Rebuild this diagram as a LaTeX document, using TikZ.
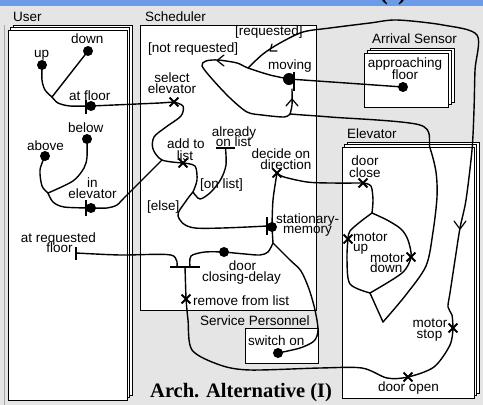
\documentclass[tikz,border=0pt]{standalone}
\usepackage{fontspec}
\setmainfont{Liberation Sans}
\newfontfamily\titlefont{Liberation Serif}
\usetikzlibrary{shapes.misc}
\definecolor{slidegray}{RGB}{229,229,229}
\definecolor{barblue}{RGB}{108,155,232}
\begin{document}
\begin{tikzpicture}[x=1pt,y=-1pt,
  lab/.style={inner sep=0pt, font=\fontsize{13.5}{14}\selectfont},
  boxframe/.style={draw, fill=white, line width=1pt},
  ucm/.style={line width=1.4pt, line join=round, line cap=round},
  dot/.style={circle, fill, inner sep=0pt, minimum size=10pt},
  bigdot/.style={dot, minimum size=12pt},
  vbar/.style={rectangle, fill, inner sep=0pt, minimum width=2.8pt},
  hbar/.style={rectangle, fill, inner sep=0pt, minimum height=2.8pt},
  resp/.style={cross out, draw, line width=1.9pt, minimum size=7pt, inner sep=0pt},
  chev/.style={line width=1.2pt, line cap=round, line join=round}]
\useasboundingbox (0,0) rectangle (483,405);
% slide background
\fill[slidegray] (0,0) rectangle (483,405);
\fill[barblue] (0,0) rectangle (483,5.5);
\node[anchor=base east, inner sep=0pt, font=\titlefont\bfseries\fontsize{26}{26}\selectfont] at (407,-1) {(I)};
\draw[gray!70, line width=1pt] (4,25) -- (4,405);

% components
\draw[boxframe] (13,25) rectangle (132,395);
\draw[boxframe] (10.5,27.5) rectangle (129.5,397.5);
\draw[boxframe] (8,30) rectangle (127,400);
\draw[boxframe] (140.5,25) rectangle (316,310);
\draw[boxframe] (245,328) rectangle (318,363);
\draw[boxframe] (370,48) rectangle (454,102);
\draw[boxframe] (367,50.5) rectangle (451,104.5);
\draw[boxframe] (364,53) rectangle (448,107);
\draw[boxframe] (347,142) rectangle (479,393);
\draw[boxframe] (344.5,144.5) rectangle (476.5,395.5);
\draw[boxframe] (342,147) rectangle (474,398);

% component names
\node[lab, anchor=base west] at (13,21) {User};
\node[lab, anchor=base west] at (145,21) {Scheduler};
\node[lab, anchor=base west] at (372,43) {Arrival Sensor};
\node[lab, anchor=base west] at (347,138) {Elevator};
\node[lab, anchor=base west] at (200,325) {Service Personnel};
\node[anchor=base west, inner sep=0pt, font=\titlefont\bfseries\fontsize{20.5}{20}\selectfont] at (150,397) {Arch. Alternative (I)};

% start points
\node[dot] (up) at (42,65) {};
\node[dot] (down) at (88,51) {};
\node[dot] (atfloor) at (91,106) {};
\node[dot] (below) at (87,139) {};
\node[dot] (above) at (45,156) {};
\node[dot] (inelev) at (91,208) {};
\node[bigdot] (moving) at (289,79) {};
\node[dot] (approach) at (403,87) {};
\node[dot] (stationary) at (272,227) {};
\node[dot] (closing) at (224,252) {};
\node[dot] (switchon) at (278,353) {};

% end bars
\node[vbar, minimum height=14pt] (afbar) at (86,107) {};
\node[vbar, minimum height=16pt] (iebar) at (86,208) {};
\node[vbar, minimum height=13pt] (reqbar) at (76,253) {};
\node[vbar, minimum height=19pt] (movbar) at (294,81) {};
\node[vbar, minimum height=18pt] (statbar) at (267,226) {};
\node[hbar, minimum width=19pt] (onlistbar) at (225.5,148) {};
\node[hbar, minimum width=30pt] (joinbar) at (185,267) {};
\coordinate (jinl) at ([xshift=-8pt]joinbar.center);
\coordinate (jinr) at ([xshift=5pt]joinbar.center);

% responsibilities
\node[resp] (select) at (174,102) {};
\node[resp] (addlist) at (183,163) {};
\node[resp] (decide) at (277,173) {};
\node[resp] (remove) at (186,299) {};
\node[resp] (doorclose) at (363,183) {};
\node[resp] (motorup) at (348,239) {};
\node[resp] (motordown) at (411,257) {};
\node[resp] (motorstop) at (453,328) {};
\node[resp] (dooropen) at (408,377) {};

% forks and joins
\coordinate (J1) at (52,97);
\coordinate (J2) at (48,193);
\coordinate (J3) at (162,160);
\coordinate (F1) at (193,192);
\coordinate (F2) at (372,213);
\coordinate (J4) at (370,293);
\coordinate (V) at (383,322);
\coordinate (J5) at (290,114);
\coordinate (L) at (248,68);
\coordinate (J6) at (273,243);

% labels
\node[lab, anchor=base west] at (34,57) {up};
\node[lab, anchor=base west] at (71,43) {down};
\node[lab, anchor=base west] at (69,100) {at floor};
\node[lab, anchor=base west] at (68,132) {below};
\node[lab, anchor=base west] at (27,150) {above};
\node[lab, anchor=base] at (92.5,187) {in};
\node[lab, anchor=base] at (92.5,198) {elevator};
\node[lab, anchor=base] at (58.5,242) {at requested};
\node[lab, anchor=base] at (59.5,252) {floor};
\node[lab, anchor=base west] at (235,35) {[requested]};
\node[lab, anchor=base west] at (148,52) {[not requested]};
\node[lab, anchor=base] at (172,82) {select};
\node[lab, anchor=base] at (172,93) {elevator};
\node[lab, anchor=base west] at (268,69) {moving};
\node[lab, anchor=base] at (186,148) {add to};
\node[lab, anchor=base] at (185,160) {list};
\node[lab, anchor=base] at (234,136) {already};
\node[lab, anchor=base] at (233.5,146) {on list};
\node[lab, anchor=base west] at (200,188) {[on list]};
\node[lab, anchor=base west] at (147,210) {[else]};
\node[lab, anchor=base] at (281,158) {decide on};
\node[lab, anchor=base] at (286,169) {direction};
\node[lab, anchor=base west] at (276,223) {stationary-};
\node[lab, anchor=base west] at (283,233) {memory};
\node[lab, anchor=base] at (242.5,270) {door};
\node[lab, anchor=base] at (241.5,281) {closing-delay};
\node[lab, anchor=base west] at (193,305) {remove from list};
\node[lab, anchor=base west] at (248,345) {switch on};
\node[lab, anchor=base] at (405,67) {approaching};
\node[lab, anchor=base] at (405,79) {floor};
\node[lab, anchor=base] at (365,165) {door};
\node[lab, anchor=base] at (365,177) {close};
\node[lab, anchor=base west] at (353,241) {motor};
\node[lab, anchor=base west] at (353,251) {up};
\node[lab, anchor=base west] at (370,262) {motor};
\node[lab, anchor=base west] at (370,272) {down};
\node[lab, anchor=base] at (430,327) {motor};
\node[lab, anchor=base] at (429.5,338) {stop};
\node[lab, anchor=base west] at (378,391) {door open};

% user paths
\draw[ucm] plot[smooth] coordinates {(up.center) (42,80) (45,90) (J1)};
\draw[ucm] (down.center) -- (J1);
\draw[ucm] plot[smooth] coordinates {(J1) (58,103) (70,106) (atfloor.center)};
\draw[ucm] (atfloor.center) -- (160,103) -- (select.center);
\draw[ucm] plot[smooth] coordinates {(above.center) (40,170) (42,186) (J2)};
\draw[ucm] plot[smooth] coordinates {(below.center) (87,157) (84,168) (73,181) (J2)};
\draw[ucm] plot[smooth] coordinates {(J2) (53,202) (64,207) (inelev.center)};
\draw[ucm] plot[smooth] coordinates {(inelev.center) (107,208) (117,205) (124,198) (J3)};

% scheduler paths
\draw[ucm] plot[smooth] coordinates {(select.center) (183,106) (181,116) (166,127) (154,137) (153,149) (J3) (addlist.center)};
\draw[ucm] plot[smooth] coordinates {(addlist.center) (195,166) (197,180) (F1)};
\draw[ucm] plot[smooth] coordinates {(F1) (186,201) (178,216) (195,228) (statbar.center)};
\draw[ucm] plot[smooth] coordinates {(F1) (200,199) (211,192) (221,179) (226,165) (onlistbar.center)};
\draw[ucm] plot[smooth] coordinates {(stationary.center) (273,200) (decide.center)};
\draw[ucm] plot[smooth] coordinates {(decide.center) (284,177) (307,182) (330,183) (doorclose.center)};

% elevator paths
\draw[ucm] plot[smooth] coordinates {(doorclose.center) (371,186) (373,200) (F2)};
\draw[ucm] plot[smooth] coordinates {(F2) (360,222) (350,231) (motorup.center) (347,260) (350,284) (J4)};
\draw[ucm] plot[smooth] coordinates {(F2) (387,220) (401,229) (408,240) (motordown.center) (402,273) (J4)};
\draw[ucm] (J4) -- (V);
\draw[ucm] plot[smooth] coordinates {(V) (405,296) (426,266) (433,232) (437,197) (436,172) (430,148) (420,125) (330,117) (303,115) (J5)};

% moving loop
\draw[ucm] plot[smooth] coordinates {(J5) (292,105) (292,89)};
\draw[ucm] plot[smooth] coordinates {(J5) (284,117) (262,115) (247,112) (230,98) (213,80) (202,66) (206,61) (218,60) (237,63) (L) (270,75) (moving.center)};
\draw[ucm] plot[smooth] coordinates {(L) (263,54) (280,43) (303,32) (330,28) (370,23) (397,20) (443,25) (477,35) (475,70) (474,110) (472,150) (466,200) (460,228) (455,260) (450,293) (448,307) (452,315) (motorstop.center)};
\draw[ucm] plot[smooth] coordinates {(motorstop.center) (450,345) (434,367) (dooropen.center) (387,378) (362,368) (320,368) (250,370) (220,365) (192,350) (188,320) (remove.center)};
\draw[ucm] (remove.center) -- (joinbar.center);
\draw[ucm] (moving.center) -- (approach.center);

% door closing and stationary memory
\draw[ucm] plot[smooth] coordinates {(reqbar.center) (120,255) (171,255) (jinl)};
\draw[ucm] plot[smooth] coordinates {(closing.center) (205,252) (191,256) (jinr)};
\draw[ucm] plot[smooth] coordinates {(closing.center) (245,254) (260,255) (268,252) (J6)};
\draw[ucm] (stationary.center) -- (J6);
\draw[ucm] plot[smooth] coordinates {(J6) (290,260) (301,271) (309,289) (315,310) (318,330) (314,341) (300,348) (switchon.center)};

% direction marks
\draw[chev] (286,106) -- (292,99) -- (298,106);
\draw[chev] (224,55) -- (217,60.5) -- (224,66);
\draw[chev] (277,51) -- (270,51) -- (272,44);
\draw[chev] (454,221) -- (460,229) -- (466,221);
\end{tikzpicture}
\end{document}
